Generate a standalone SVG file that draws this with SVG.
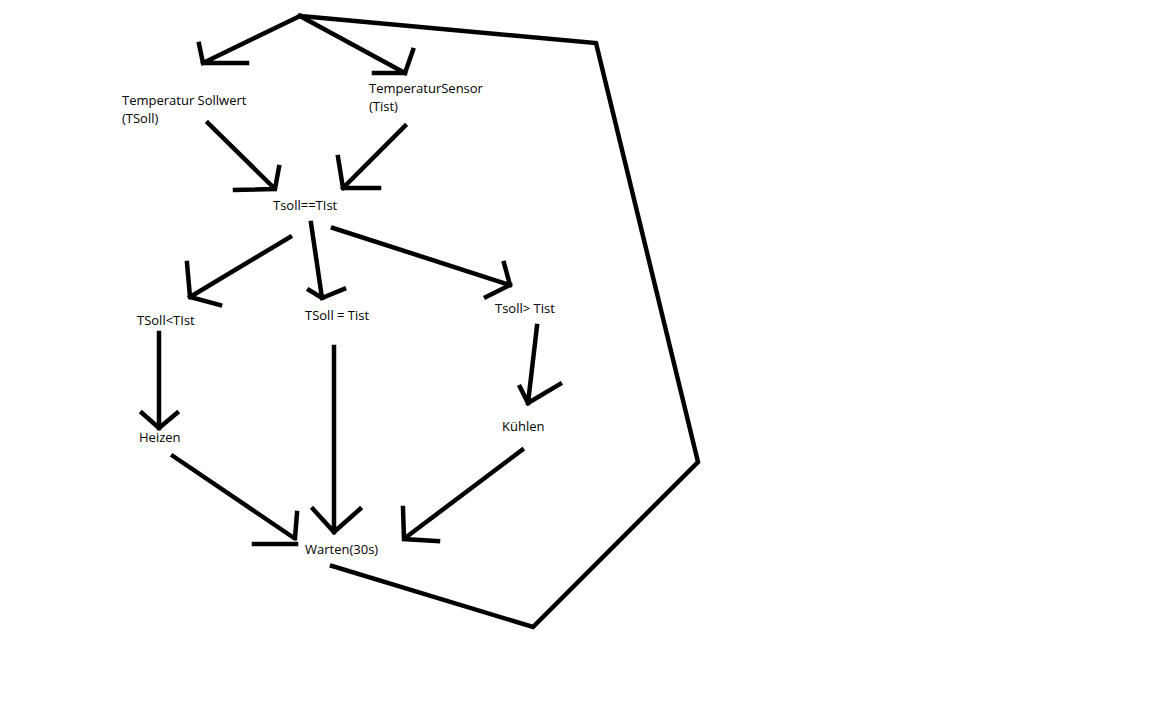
<svg xmlns="http://www.w3.org/2000/svg" width="1152" height="720" viewBox="0 0 1152 720">
<style>
.c{fill:none;stroke:#000;stroke-width:4.5;stroke-linecap:square;stroke-linejoin:miter}
.t{font-family:"Open Sans","Noto Sans",sans-serif;font-size:13px;fill:#000}
</style>
<rect width="1152" height="720" fill="#fff"/>
<g id="connectors">
<path class="c" d="M300,16 L203,63 M199,44 L203,63 L247,63"/>
<path class="c" d="M300,16 L405,73 M413,50 L405,73 M374,73 L405,73"/>
<path class="c" d="M208,123 L273,187 M279,167 L275,189 L235,190"/>
<path class="c" d="M405,126 L343,188 M338,157 L343,188 L379,188"/>
<path class="c" d="M290,237 L190,297 M187,263 L190,297 L220,305"/>
<path class="c" d="M311,223 L322,298 M309,290 L322,298 L344,289"/>
<path class="c" d="M333,228 L510,285 M504,263 L510,285 L486,297"/>
<path class="c" d="M159,333 L159,428 M142,413 L159,428 L177,413"/>
<path class="c" d="M334,347 L334,532 M313,509 L334,532 L360,509"/>
<path class="c" d="M537,326 L528,403 M520,387 L528,403 L560,384"/>
<path class="c" d="M173,456 L294,538 M297,513 L295,538 M254,544 L296,544"/>
<path class="c" d="M522,450 L405,538 M403,508 L404,539 L438,541"/>
<path class="c" d="M332,566 L533,627 L698,462 L596,43 L300,16"/>
</g>
<g id="n-sollwert"><text class="t" x="122" y="105">Temperatur Sollwert</text><text class="t" x="122" y="123">(TSoll)</text></g>
<g id="n-sensor"><text class="t" x="369" y="93">TemperaturSensor</text><text class="t" x="369" y="111">(Tist)</text></g>
<g id="n-compare"><text class="t" x="273" y="210">Tsoll==TIst</text></g>
<g id="n-less"><text class="t" x="137" y="325">TSoll&lt;TIst</text></g>
<g id="n-equal"><text class="t" x="305" y="320">TSoll = Tist</text></g>
<g id="n-greater"><text class="t" x="495" y="313">Tsoll&gt; Tist</text></g>
<g id="n-heizen"><text class="t" x="139" y="442">Heizen</text></g>
<g id="n-kuehlen"><text class="t" x="502" y="431">Kühlen</text></g>
<g id="n-warten"><text class="t" x="305" y="554">Warten(30s)</text></g>
</svg>
